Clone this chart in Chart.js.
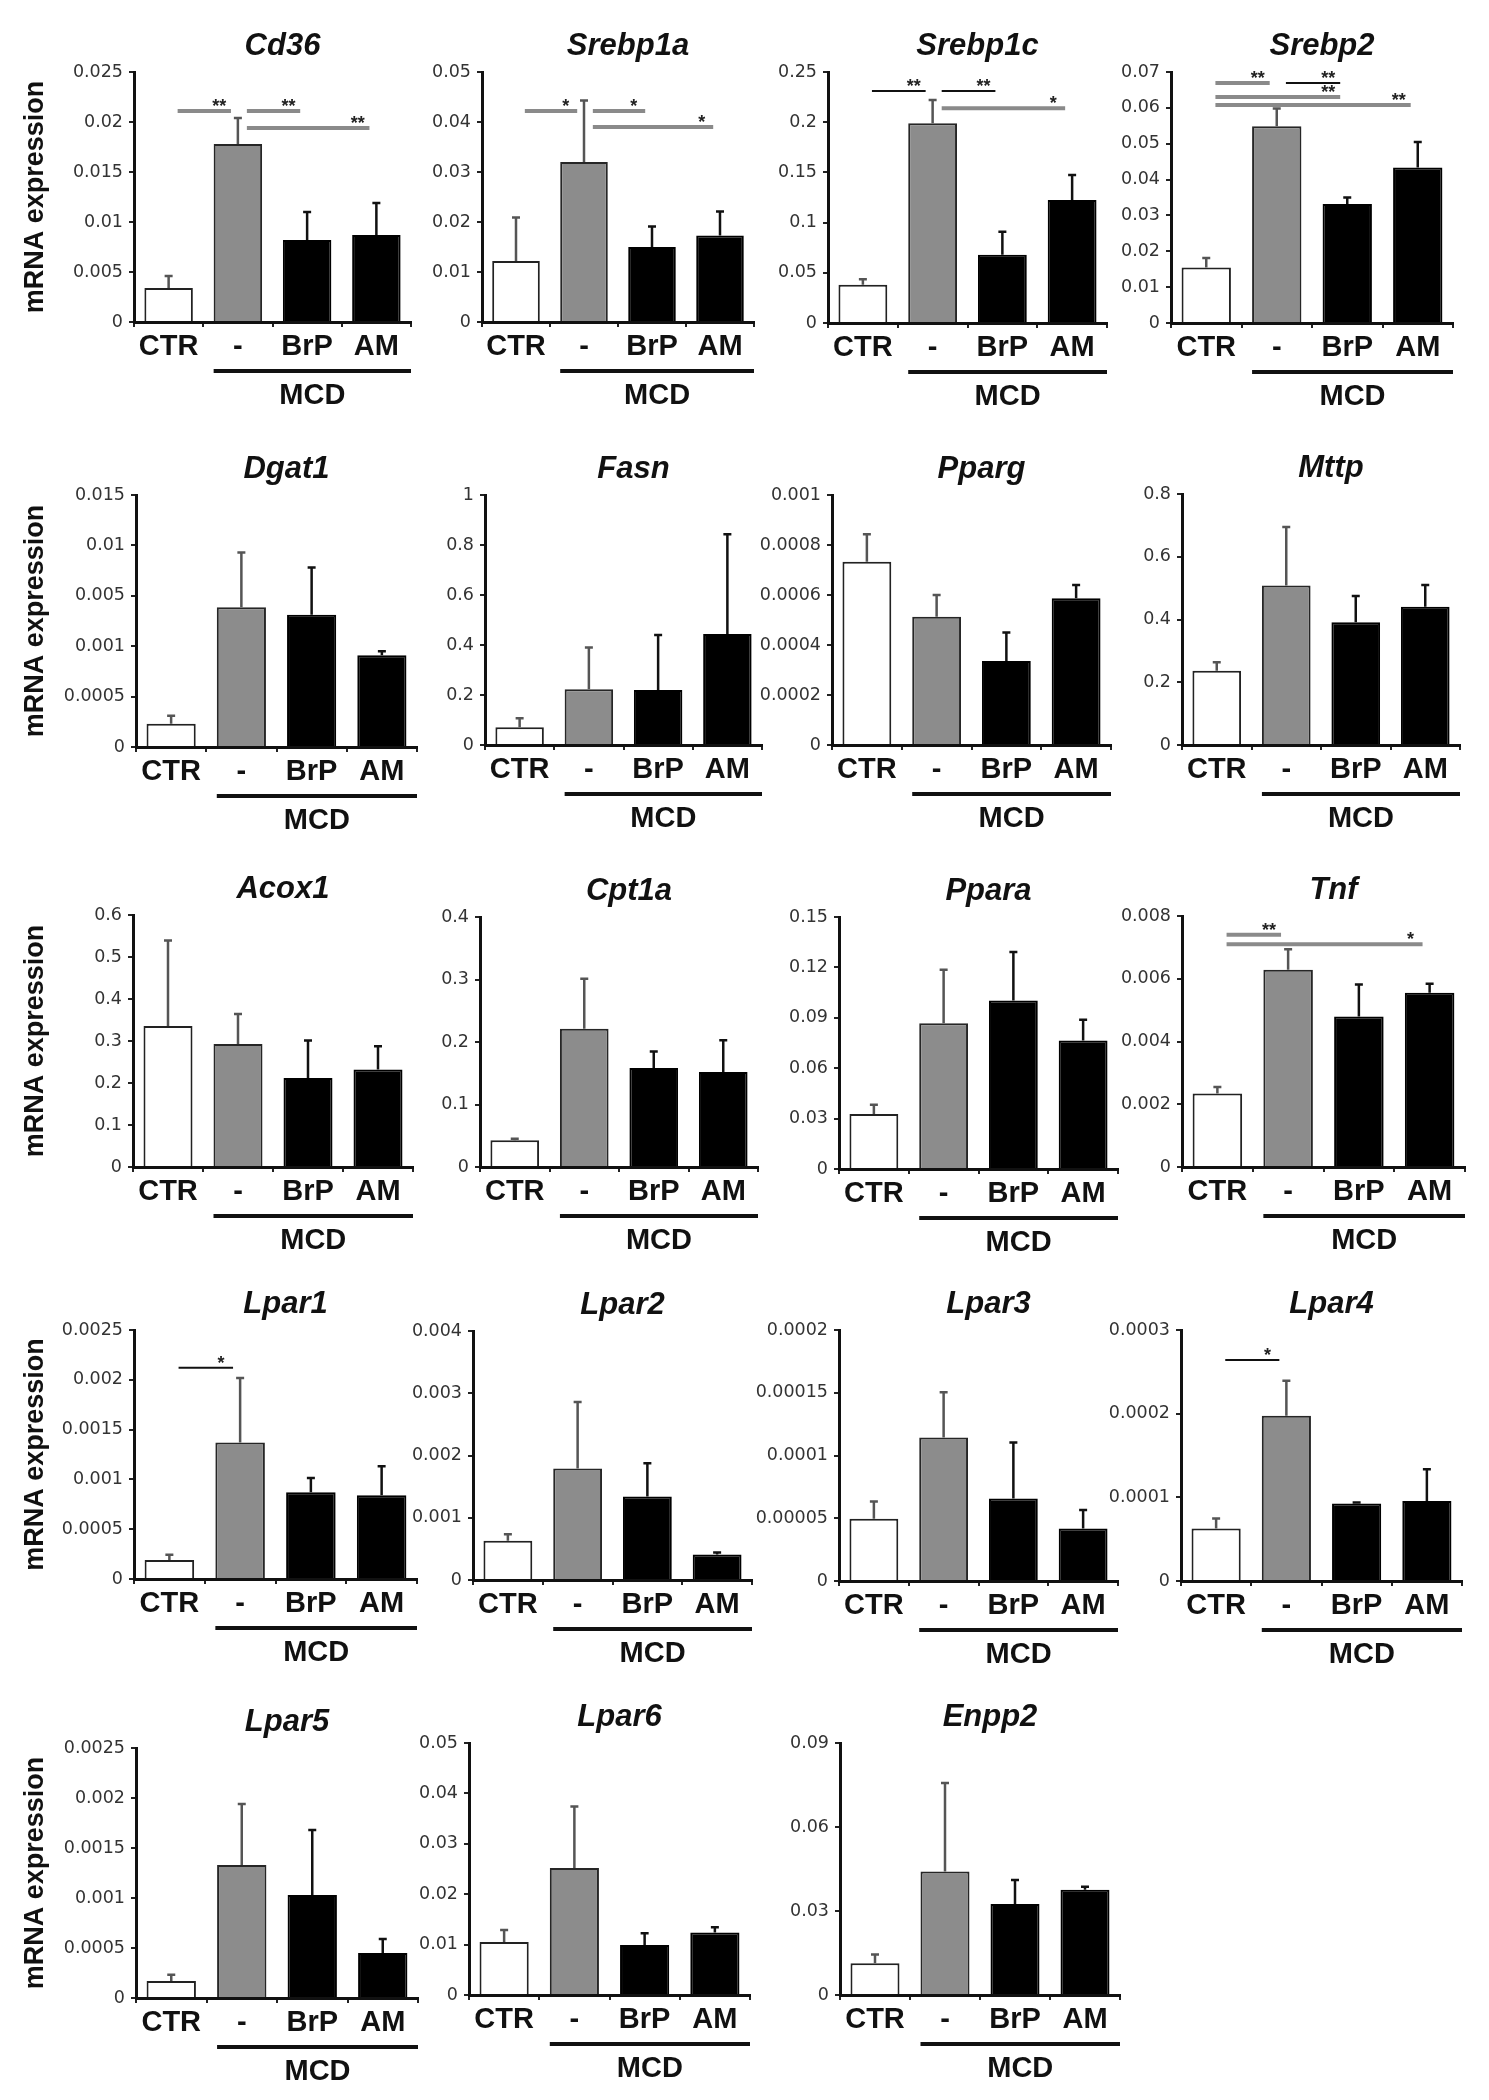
<!DOCTYPE html>
<html><head><meta charset="utf-8">
<script src="https://cdn.jsdelivr.net/npm/chart.js@4.4.1/dist/chart.umd.min.js"></script>
<style>
html,body{margin:0;padding:0;background:#fff;}
#fig{position:relative;width:1489px;height:2100px;overflow:hidden;background:#fff;}
.panel{position:absolute;}
</style></head><body><div id="fig"></div>
<script>
// ---------- DATA ----------
const groups = ['CTR', '-', 'BrP', 'AM'];

const cd36Mean = [0.0034, 0.0178, 0.0082, 0.0087];
const cd36Err = [0.0012, 0.0026, 0.0028, 0.0032];
const cd36Ticks = [0, 0.005, 0.01, 0.015, 0.02, 0.025];
const cd36Sig = [[0, 1, '**', 0.0211], [1, 2, '**', 0.0211], [1, 3, '**', 0.0194]];

const srebp1aMean = [0.0122, 0.032, 0.015, 0.0173];
const srebp1aErr = [0.0087, 0.0123, 0.0041, 0.0048];
const srebp1aTicks = [0, 0.01, 0.02, 0.03, 0.04, 0.05];
const srebp1aSig = [[0, 1, '*', 0.0422], [1, 2, '*', 0.0422], [1, 3, '*', 0.039]];

const srebp1cMean = [0.038, 0.199, 0.068, 0.1225];
const srebp1cErr = [0.0057, 0.023, 0.023, 0.025];
const srebp1cTicks = [0, 0.05, 0.1, 0.15, 0.2, 0.25];
const srebp1cSig = [[0, 1, '**', 0.231], [1, 2, '**', 0.231], [1, 3, '*', 0.214]];

const srebp2Mean = [0.0155, 0.0549, 0.0332, 0.0434];
const srebp2Err = [0.0026, 0.0049, 0.0018, 0.0071];
const srebp2Ticks = [0, 0.01, 0.02, 0.03, 0.04, 0.05, 0.06, 0.07];
const srebp2Sig = [[0, 1, '**', 0.0669], [1, 2, '**', 0.0669], [0, 2, '**', 0.063], [0, 3, '**', 0.0608]];

const dgat1Mean = [0.00023, 0.0041, 0.0035, 0.00091];
const dgat1Err = [0.00008, 0.0052, 0.0043, 0.00004];
const dgat1Ticks = [0, 0.0005, 0.001, 0.005, 0.01, 0.015];

const fasnMean = [0.071, 0.223, 0.22, 0.444];
const fasnErr = [0.036, 0.167, 0.22, 0.399];
const fasnTicks = [0, 0.2, 0.4, 0.6, 0.8, 1];

const ppargMean = [0.000733, 0.000513, 0.000336, 0.000587];
const ppargErr = [0.00011, 0.000087, 0.000114, 0.000053];
const ppargTicks = [0, 0.0002, 0.0004, 0.0006, 0.0008, 0.001];

const mttpMean = [0.237, 0.508, 0.391, 0.441];
const mttpErr = [0.0265, 0.187, 0.084, 0.069];
const mttpTicks = [0, 0.2, 0.4, 0.6, 0.8];

const acox1Mean = [0.336, 0.293, 0.212, 0.232];
const acox1Err = [0.203, 0.0715, 0.089, 0.0556];
const acox1Ticks = [0, 0.1, 0.2, 0.3, 0.4, 0.5, 0.6];

const cpt1aMean = [0.0427, 0.2213, 0.1584, 0.152];
const cpt1aErr = [0.0026, 0.08, 0.0266, 0.0507];
const cpt1aTicks = [0, 0.1, 0.2, 0.3, 0.4];

const pparaMean = [0.0328, 0.0868, 0.1003, 0.0765];
const pparaErr = [0.0055, 0.0318, 0.0288, 0.0123];
const pparaTicks = [0, 0.03, 0.06, 0.09, 0.12, 0.15];

const tnfMean = [0.00234, 0.00629, 0.0048, 0.00555];
const tnfErr = [0.00021, 0.00065, 0.00102, 0.00029];
const tnfTicks = [0, 0.002, 0.004, 0.006, 0.008];
const tnfSig = [[0, 1, '**', 0.0074], [0, 3, '*', 0.0071]];

const lpar1Mean = [0.00019, 0.00137, 0.00087, 0.00084];
const lpar1Err = [0.000054, 0.000648, 0.000144, 0.000291];
const lpar1Ticks = [0, 0.0005, 0.001, 0.0015, 0.002, 0.0025];
const lpar1Sig = [[0, 1, '*', 0.00212]];

const lpar2Mean = [0.00063, 0.00179, 0.00134, 0.00041];
const lpar2Err = [0.000104, 0.00107, 0.000534, 0.00003];
const lpar2Ticks = [0, 0.001, 0.002, 0.003, 0.004];

const lpar3Mean = [0.0000497, 0.0001144, 0.0000657, 0.0000418];
const lpar3Err = [0.0000136, 0.0000359, 0.0000447, 0.0000148];
const lpar3Ticks = [0, 0.00005, 0.0001, 0.00015, 0.0002];

const lpar4Mean = [0.0000626, 0.0001975, 0.0000926, 0.0000957];
const lpar4Err = [0.000012, 0.0000419, 0.0000012, 0.0000379];
const lpar4Ticks = [0, 0.0001, 0.0002, 0.0003];
const lpar4Sig = [[0, 1, '*', 0.000264]];

const lpar5Mean = [0.00017, 0.00133, 0.00103, 0.00045];
const lpar5Err = [0.000063, 0.00061, 0.00065, 0.00014];
const lpar5Ticks = [0, 0.0005, 0.001, 0.0015, 0.002, 0.0025];

const lpar6Mean = [0.0105, 0.0252, 0.0099, 0.0124];
const lpar6Err = [0.0024, 0.0122, 0.00235, 0.00104];
const lpar6Ticks = [0, 0.01, 0.02, 0.03, 0.04, 0.05];

const enpp2Mean = [0.0113, 0.0441, 0.0325, 0.0376];
const enpp2Err = [0.0032, 0.0316, 0.0086, 0.0011];
const enpp2Ticks = [0, 0.03, 0.06, 0.09];

// ---------- PANELS ----------
const panels = [
  {gene: 'Cd36', mean: cd36Mean, err: cd36Err, ticks: cd36Ticks, sig: cd36Sig},
  {gene: 'Srebp1a', mean: srebp1aMean, err: srebp1aErr, ticks: srebp1aTicks, sig: srebp1aSig},
  {gene: 'Srebp1c', mean: srebp1cMean, err: srebp1cErr, ticks: srebp1cTicks, sig: srebp1cSig},
  {gene: 'Srebp2', mean: srebp2Mean, err: srebp2Err, ticks: srebp2Ticks, sig: srebp2Sig},
  {gene: 'Dgat1', mean: dgat1Mean, err: dgat1Err, ticks: dgat1Ticks, piecewise: true},
  {gene: 'Fasn', mean: fasnMean, err: fasnErr, ticks: fasnTicks},
  {gene: 'Pparg', mean: ppargMean, err: ppargErr, ticks: ppargTicks},
  {gene: 'Mttp', mean: mttpMean, err: mttpErr, ticks: mttpTicks},
  {gene: 'Acox1', mean: acox1Mean, err: acox1Err, ticks: acox1Ticks},
  {gene: 'Cpt1a', mean: cpt1aMean, err: cpt1aErr, ticks: cpt1aTicks},
  {gene: 'Ppara', mean: pparaMean, err: pparaErr, ticks: pparaTicks},
  {gene: 'Tnf', mean: tnfMean, err: tnfErr, ticks: tnfTicks, sig: tnfSig},
  {gene: 'Lpar1', mean: lpar1Mean, err: lpar1Err, ticks: lpar1Ticks, sig: lpar1Sig},
  {gene: 'Lpar2', mean: lpar2Mean, err: lpar2Err, ticks: lpar2Ticks},
  {gene: 'Lpar3', mean: lpar3Mean, err: lpar3Err, ticks: lpar3Ticks},
  {gene: 'Lpar4', mean: lpar4Mean, err: lpar4Err, ticks: lpar4Ticks, sig: lpar4Sig},
  {gene: 'Lpar5', mean: lpar5Mean, err: lpar5Err, ticks: lpar5Ticks},
  {gene: 'Lpar6', mean: lpar6Mean, err: lpar6Err, ticks: lpar6Ticks},
  {gene: 'Enpp2', mean: enpp2Mean, err: enpp2Err, ticks: enpp2Ticks}
];

// layout: [axis left x, axis right x, top tick y, zero y] in page pixels
const layout = {
  Cd36: [134, 411, 72, 322], Srebp1a: [482, 754, 72, 322], Srebp1c: [828, 1107, 72, 323], Srebp2: [1171, 1453, 72, 323],
  Dgat1: [136, 417, 495, 747], Fasn: [485, 762, 495, 745], Pparg: [832, 1111, 495, 745], Mttp: [1182, 1460, 494, 745],
  Acox1: [133, 413, 915, 1167], Cpt1a: [480, 758, 917, 1167], Ppara: [839, 1118, 917, 1169], Tnf: [1182, 1465, 916, 1167],
  Lpar1: [134, 417, 1330, 1579], Lpar2: [473, 752, 1331, 1580], Lpar3: [839, 1118, 1330, 1581], Lpar4: [1181, 1462, 1330, 1581],
  Lpar5: [136, 418, 1748, 1998], Lpar6: [469, 750, 1743, 1995], Enpp2: [840, 1120, 1743, 1995]
};
const yLabelGenes = ['Cd36', 'Dgat1', 'Acox1', 'Lpar1', 'Lpar5'];
const darkSig = {Srebp1c: [true, true, false], Srebp2: [false, true, false, false], Lpar1: [true], Lpar4: [true]};

// ---------- STYLE ----------
const FONT = "'Liberation Sans', Arial, Helvetica, sans-serif";
const TICKFONT = "'DejaVu Sans', Verdana, sans-serif";
Chart.defaults.font.family = FONT;
const barFill = ['#ffffff', '#8c8c8c', '#000000', '#000000'];
const barEdge = ['#222222', '#262626', '#000000', '#000000'];
const errColor = ['#555555', '#555555', '#111111', '#111111'];

// piecewise-linear scale for broken axis (Dgat1)
class PiecewiseScale extends Chart.LinearScale {
  getPixelForValue(value) {
    const b = this._breaks;
    if (!b || value === null || value === undefined || isNaN(value)) return super.getPixelForValue(value);
    const n = b.length - 1;
    let k = 0;
    while (k < n - 1 && value > b[k + 1]) k++;
    const f = (k + (value - b[k]) / (b[k + 1] - b[k])) / n;
    return this.getPixelForDecimal(f);
  }
  getValueForPixel(pixel) {
    const b = this._breaks;
    if (!b) return super.getValueForPixel(pixel);
    const n = b.length - 1;
    const d = this.getDecimalForPixel(pixel) * n;
    const k = Math.max(0, Math.min(n - 1, Math.floor(d)));
    return b[k] + (d - k) * (b[k + 1] - b[k]);
  }
}
PiecewiseScale.id = 'piecewise';
PiecewiseScale.defaults = Object.assign({}, Chart.LinearScale.defaults);
Chart.register(PiecewiseScale);

function makeDeco(p) {
  return {
    id: 'deco',
    afterDraw(chart) {
      const ctx = chart.ctx, xs = chart.scales.x, ys = chart.scales.y, ca = chart.chartArea;
      const meta = chart.getDatasetMeta(0);
      const cat = (ca.right - ca.left) / groups.length;
      ctx.save();
      // error bars
      meta.data.forEach((bar, i) => {
        const x = bar.x;
        const yA = ys.getPixelForValue(p.mean[i]);
        const yB = ys.getPixelForValue(p.mean[i] + p.err[i]);
        ctx.strokeStyle = errColor[i];
        ctx.lineWidth = 2.5;
        ctx.beginPath();
        ctx.moveTo(x, yA); ctx.lineTo(x, yB);
        ctx.moveTo(x - 4, yB); ctx.lineTo(x + 4, yB);
        ctx.stroke();
      });
      // significance lines
      (p.sig || []).forEach((s, k) => {
        const [i, j, lab, lev] = s;
        const dark = darkSig[p.gene] && darkSig[p.gene][k];
        const x1 = xs.getPixelForValue(i) + 0.13 * cat;
        const x2 = xs.getPixelForValue(j) - 0.1 * cat;
        const y = ys.getPixelForValue(lev);
        ctx.strokeStyle = dark ? '#111' : '#8a8a8a';
        ctx.lineWidth = dark ? 2 : 4;
        ctx.beginPath(); ctx.moveTo(x1, y); ctx.lineTo(x2, y); ctx.stroke();
        ctx.fillStyle = '#222';
        ctx.font = 'bold 18px ' + FONT;
        ctx.textAlign = 'center';
        ctx.textBaseline = 'alphabetic';
        ctx.fillText(lab, x2 - 0.17 * cat, y + 1);
      });
      // MCD bracket
      const b1 = meta.data[1];
      const xL = b1.x - b1.width / 2, xR = ca.right;
      ctx.fillStyle = '#111';
      ctx.fillRect(xL, ca.bottom + 47, xR - xL, 4);
      ctx.font = 'bold 29px ' + FONT;
      ctx.textAlign = 'center';
      ctx.textBaseline = 'middle';
      ctx.fillText('MCD', (xL + xR) / 2, ca.bottom + 74);
      // title
      ctx.font = 'italic bold 31px ' + FONT;
      ctx.fillText(p.gene, (ca.left + ca.right) / 2 + 10, ca.top - 26);
      // y label
      if (p.ylabel) {
        ctx.translate(36 - p.canvasLeft, (ca.top + ca.bottom) / 2);
        ctx.rotate(-Math.PI / 2);
        ctx.font = 'bold 27px ' + FONT;
        ctx.fillText('mRNA expression', 0, 0);
      }
      ctx.restore();
    }
  };
}

const fig = document.getElementById('fig');
const LEFT = 134, RIGHT = 22, TOP = 62, BOT = 110, YW = 126, XH = 40;

panels.forEach(p => {
  const [ax, ae, ty, zy] = layout[p.gene];
  const cw = LEFT + (ae - ax) + RIGHT;
  const ch = TOP + (zy - ty) + BOT;
  const wrap = document.createElement('div');
  wrap.className = 'panel';
  wrap.style.left = (ax - LEFT) + 'px';
  wrap.style.top = (ty - TOP) + 'px';
  wrap.style.width = cw + 'px';
  wrap.style.height = ch + 'px';
  const canvas = document.createElement('canvas');
  canvas.width = cw; canvas.height = ch;
  canvas.style.width = cw + 'px'; canvas.style.height = ch + 'px';
  wrap.appendChild(canvas);
  fig.appendChild(wrap);
  p.canvasLeft = ax - LEFT;
  p.ylabel = yLabelGenes.includes(p.gene);
  new Chart(canvas, {
    type: 'bar',
    data: {
      labels: groups,
      datasets: [{
        data: p.mean,
        backgroundColor: barFill,
        borderColor: barEdge,
        borderWidth: 2,
        borderSkipped: 'start',
        barPercentage: 0.7,
        categoryPercentage: 1.0
      }]
    },
    options: {
      responsive: false,
      animation: false,
      devicePixelRatio: 1,
      layout: {padding: {left: LEFT - YW, right: RIGHT, top: TOP, bottom: BOT - XH}},
      plugins: {legend: {display: false}, tooltip: {enabled: false}, title: {display: false}},
      scales: {
        x: {
          type: 'category',
          offset: true,
          grid: {offset: true, drawOnChartArea: false, drawTicks: true, tickLength: 5, color: '#222', lineWidth: 2},
          border: {display: true, color: '#111', width: 3},
          ticks: {font: {size: 29, weight: 'bold', family: FONT}, color: '#111', padding: 3, maxRotation: 0, autoSkip: false},
          afterFit: s => { s.height = XH; }
        },
        y: {
          type: p.piecewise ? 'piecewise' : 'linear',
          min: 0,
          max: p.ticks[p.ticks.length - 1],
          afterBuildTicks: s => { s.ticks = p.ticks.map(v => ({value: v})); s._breaks = p.ticks; },
          afterFit: s => { s.width = YW; },
          grid: {drawOnChartArea: false, drawTicks: true, tickLength: 5, color: '#222', lineWidth: 2},
          border: {display: true, color: '#111', width: 3},
          ticks: {font: {size: 17.5, family: TICKFONT}, color: '#333', padding: 6, autoSkip: false, callback: v => String(v)}
        }
      }
    },
    plugins: [makeDeco(p)]
  });
});
</script>
</body></html>
